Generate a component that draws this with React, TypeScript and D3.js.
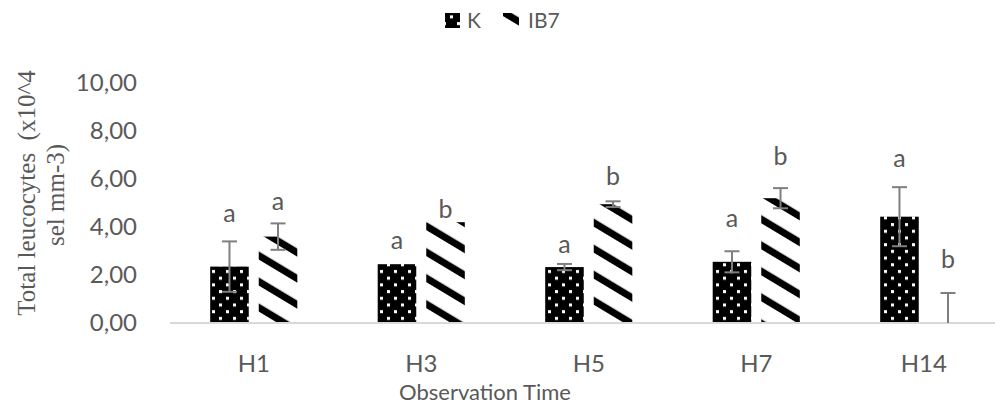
import React from "react";
import * as d3 from "d3";

// values
const categories = ["H1", "H3", "H5", "H7", "H14"];
const seriesNames = ["K", "IB7"];
const kValues = [2.35, 2.45, 2.33, 2.55, 4.43];
const kErrors = [1.05, 0, 0.13, 0.44, 1.23];
const ib7Values = [3.6, 4.2, 4.95, 5.2, 0];
const ib7Errors = [0.55, 0, 0.12, 0.42, 1.25];
const kLetters = ["a", "a", "a", "a", "a"];
const ib7Letters = ["a", "b", "b", "b", "b"];
// letter baselines in data units (text boxes placed by hand in the original)
const kLetterY = [4.21, 3.08, 2.92, 4.0, 6.5];
const ib7LetterY = [4.71, 4.38, 5.75, 6.58, 2.29];
const yTicks = [0, 2, 4, 6, 8, 10];

const W = 995;
const H = 407;
const grey = "#595959";
const font = "Lato, 'Open Sans', sans-serif";

export default function App() {
  const x0 = d3
    .scaleBand<string>()
    .domain(categories)
    .range([170, 1007.5])
    .paddingInner(0.48)
    .paddingOuter(0.24);
  const x1 = d3
    .scaleBand<string>()
    .domain(seriesNames)
    .range([0, x0.bandwidth()])
    .paddingInner(0.206);
  const y = d3.scaleLinear().domain([0, 10]).range([323, 83]);
  const fmt = (v: number) => d3.format(".2f")(v).replace(".", ",");

  const series = [
    { name: "K", values: kValues, errors: kErrors, letters: kLetters, ly: kLetterY, fill: "url(#dots)" },
    { name: "IB7", values: ib7Values, errors: ib7Errors, letters: ib7Letters, ly: ib7LetterY, fill: "url(#stripes)" },
  ];

  return (
    <svg width={W} height={H} style={{ position: "absolute", left: 0, top: 0, background: "#fff" }}>
      <defs>
        <pattern id="dots" patternUnits="userSpaceOnUse" width={14} height={13.4}>
          <rect width={14} height={13.4} fill="#000" />
          <rect x={2} y={2} width={3} height={3} fill="#fff" />
          <rect x={9} y={8.7} width={3} height={3} fill="#fff" />
        </pattern>
        <pattern id="stripes" patternUnits="userSpaceOnUse" width={22.3} height={40} patternTransform="rotate(-59)">
          <rect width={22.3} height={40} fill="#fff" />
          <rect x={0} width={7} height={40} fill="#000" />
        </pattern>
      </defs>

      {/* legend */}
      <rect x={445} y={13} width={15} height={15} fill="url(#dots)" />
      <text x={467} y={28} fontFamily={font} fontSize={21} fill={grey}>K</text>
      <rect x={503} y={13} width={16} height={15} fill="url(#stripes)" />
      <text x={528} y={28} fontFamily={font} fontSize={21} fill={grey}>IB7</text>

      {/* y tick labels */}
      {yTicks.map((t) => (
        <text key={t} x={137} y={y(t)} dy="0.35em" textAnchor="end" fontFamily={font} fontSize={24} fill={grey}>
          {fmt(t)}
        </text>
      ))}

      {/* y title */}
      <g transform="translate(35,193) rotate(-90)">
        <text textAnchor="middle" fontFamily="'Liberation Serif', 'Times New Roman', serif" fontSize={25} fill={grey} style={{ whiteSpace: "pre" }}>
          {"Total leucocytes  (x10^4"}
        </text>
      </g>
      <g transform="translate(64,195) rotate(-90)">
        <text textAnchor="middle" fontFamily="'Liberation Serif', 'Times New Roman', serif" fontSize={25} fill={grey}>
          sel mm-3)
        </text>
      </g>

      {/* bars */}
      {series.map((s) =>
        categories.map((c, i) => (
          <rect
            key={s.name + c}
            x={(x0(c) ?? 0) + (x1(s.name) ?? 0)}
            y={y(s.values[i])}
            width={x1.bandwidth()}
            height={y(0) - y(s.values[i])}
            fill={s.fill}
          />
        ))
      )}

      {/* axis line */}
      <line x1={170} x2={W} y1={y(0)} y2={y(0)} stroke="#d9d9d9" strokeWidth={2} />

      {/* error bars */}
      {series.map((s) =>
        categories.map((c, i) => {
          if (!s.errors[i]) return null;
          const cx = (x0(c) ?? 0) + (x1(s.name) ?? 0) + x1.bandwidth() / 2;
          const hi = s.values[i] + s.errors[i];
          const lo = Math.max(0, s.values[i] - s.errors[i]);
          const clipped = s.values[i] - s.errors[i] < 0;
          return (
            <g key={"e" + s.name + c} stroke="#7f7f7f" strokeWidth={2}>
              <line x1={cx} x2={cx} y1={y(hi)} y2={y(lo)} />
              <line x1={cx - 7.5} x2={cx + 7.5} y1={y(hi)} y2={y(hi)} />
              {!clipped && <line x1={cx - 7.5} x2={cx + 7.5} y1={y(lo)} y2={y(lo)} />}
            </g>
          );
        })
      )}

      {/* significance letters */}
      {series.map((s) =>
        categories.map((c, i) => (
          <text
            key={"l" + s.name + c}
            x={(x0(c) ?? 0) + (x1(s.name) ?? 0) + x1.bandwidth() / 2}
            y={y(s.ly[i])}
            textAnchor="middle"
            fontFamily={font}
            fontSize={25}
            fill={grey}
          >
            {s.letters[i]}
          </text>
        ))
      )}

      {/* x labels */}
      {categories.map((c) => (
        <text key={"x" + c} x={(x0(c) ?? 0) + x0.bandwidth() / 2} y={372} textAnchor="middle" fontFamily={font} fontSize={24} fill={grey}>
          {c}
        </text>
      ))}
      <text x={485} y={400} textAnchor="middle" fontFamily={font} fontSize={22} fill={grey}>
        Observation Time
      </text>
    </svg>
  );
}
